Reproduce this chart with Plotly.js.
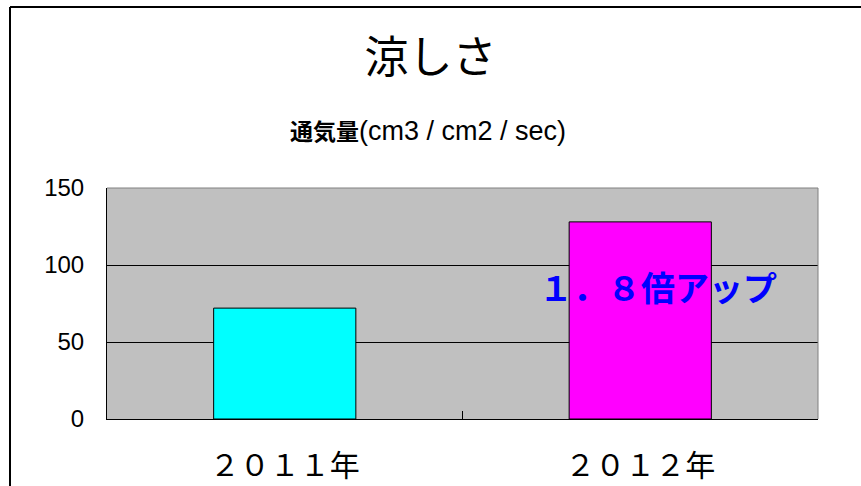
<!DOCTYPE html>
<html>
<head>
<meta charset="utf-8">
<script src="https://cdn.plot.ly/plotly-3.0.1.min.js"></script>
<style>
html,body{margin:0;padding:0;background:#fff;}
#chart{width:861px;height:486px;}
</style>
</head>
<body>
<div id="chart"></div>
<script>
const categories = ["２０１１年", "２０１２年"];
const values = [72, 128];
const barColors = ["#00FFFF", "#FF00FF"];
const yTicks = [0, 50, 100, 150];
const titleText = "涼しさ";
const subtitleJa = "通気量";
const subtitleUnit = "(cm3 / cm2 / sec)";
const noteText = "１．８倍アップ";

const font = "'Noto Sans CJK JP', 'Noto Sans', sans-serif";
const latin = "'Liberation Sans', Arial, sans-serif";

const trace = {
  type: "bar",
  x: categories,
  y: values,
  width: 0.4,
  marker: {color: barColors, line: {color: "#000", width: 1}},
  hoverinfo: "none"
};

const layout = {
  width: 861, height: 486,
  margin: {l: 107, r: 43, t: 188, b: 67},
  paper_bgcolor: "#fff",
  plot_bgcolor: "#C0C0C0",
  showlegend: false,
  title: {
    text: titleText,
    font: {family: font, size: 44, color: "#000"},
    x: 0.5, xanchor: "center",
    y: 1 - 58/486, yanchor: "middle", yref: "container"
  },
  xaxis: {
    type: "category",
    tickson: "boundaries",
    ticks: "inside", ticklen: 8, tickcolor: "#000",
    showline: true, linecolor: "#000", linewidth: 1,
    showgrid: false, zeroline: false,
    tickfont: {family: font, size: 30, color: "#000"},
    ticklabelstandoff: 20
  },
  yaxis: {
    range: [0, 150],
    tickvals: yTicks,
    ticks: "inside", ticklen: 5, tickcolor: "#000",
    showline: true, linecolor: "#000", linewidth: 1,
    showgrid: true, gridcolor: "#000", gridwidth: 1,
    zeroline: false,
    tickfont: {family: latin, size: 24, color: "#000"},
    ticklabelstandoff: 17
  },
  shapes: [
    {type: "line", xref: "paper", yref: "paper", x0: 0, x1: 1, y0: 1, y1: 1, line: {color: "#808080", width: 1}},
    {type: "line", xref: "paper", yref: "paper", x0: 1, x1: 1, y0: 0, y1: 1, line: {color: "#808080", width: 1}},
    {type: "line", xref: "paper", yref: "paper", x0: (10-107)/711, x1: 1.2, y0: (486-67-7)/231, y1: (486-67-7)/231, line: {color: "#000", width: 2}},
    {type: "line", xref: "paper", yref: "paper", x0: (10-107)/711, x1: (10-107)/711, y0: -0.5, y1: (486-67-7)/231, line: {color: "#000", width: 2}}
  ],
  annotations: [
    {text: "<b><span style=\"font-size:23px\">" + subtitleJa + "</span></b><span style=\"font-family:Liberation Sans, Noto Sans CJK JP\">" + subtitleUnit + "</span>",
     xref: "paper", yref: "paper", x: (428-107)/711, y: (419-130)/231,
     xanchor: "center", yanchor: "middle", showarrow: false,
     font: {family: font, size: 27, color: "#000"}},
    {text: noteText, xref: "x", yref: "y", x: 1.05, y: 86,
     xanchor: "center", yanchor: "middle", showarrow: false,
     font: {family: font, size: 34, color: "#0000FF", weight: "bold"}}
  ]
};

Plotly.newPlot("chart", [trace], layout, {staticPlot: true, displayModeBar: false});
</script>
</body>
</html>
